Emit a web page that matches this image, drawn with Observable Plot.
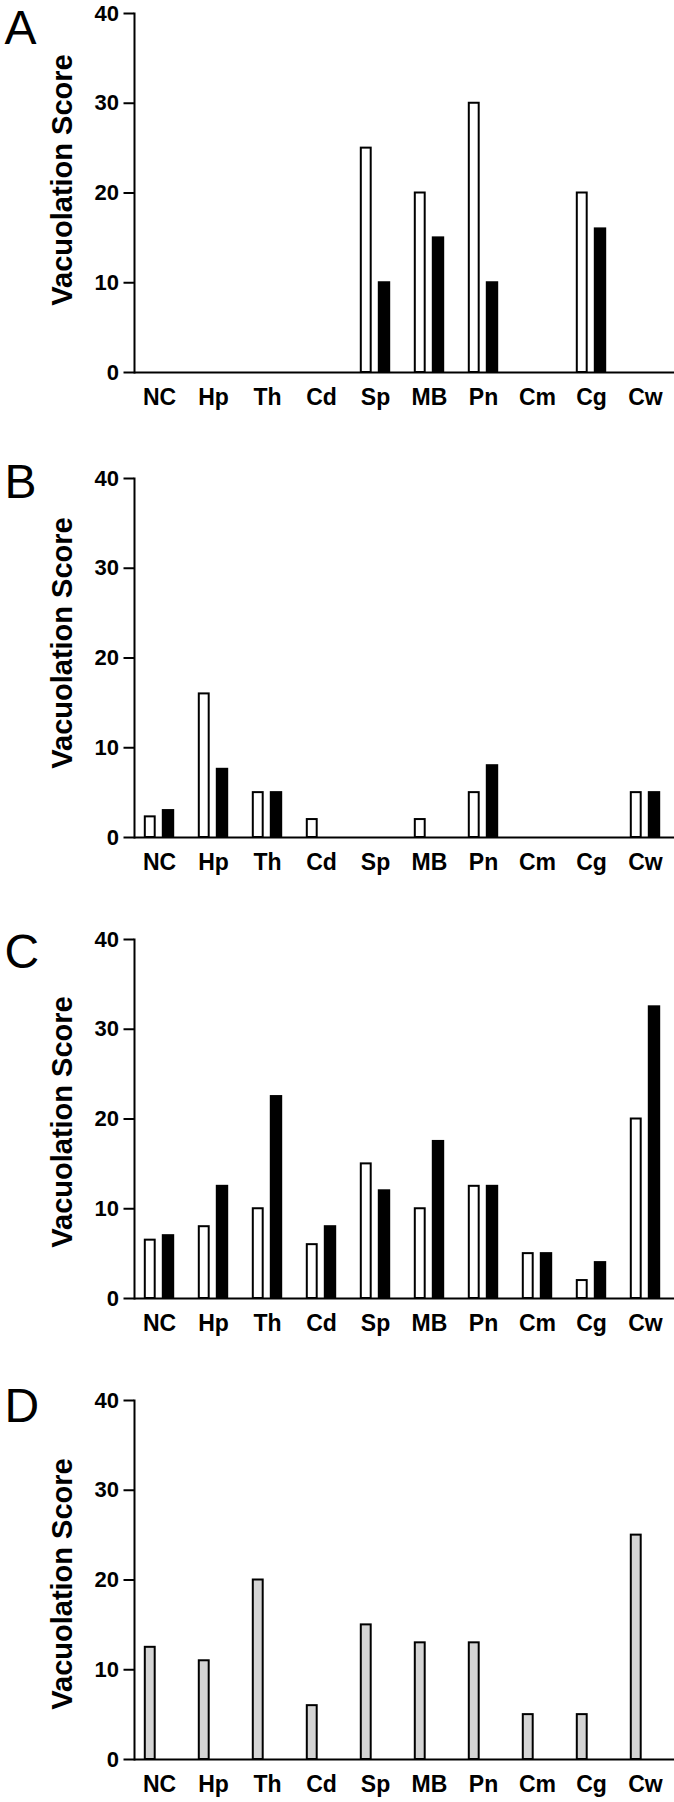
<!DOCTYPE html>
<html><head><meta charset="utf-8">
<script src="https://cdn.jsdelivr.net/npm/d3@7"></script>
<script src="https://cdn.jsdelivr.net/npm/@observablehq/plot@0.6"></script>
<style>
html,body{margin:0;padding:0;background:#fff;}
#wrap{position:relative;width:674px;height:1802px;overflow:hidden;background:#fff;}
.panel{position:absolute;left:0;}
</style></head><body><div id="wrap"></div>
<script>
// ---- data ----
const categories = ["NC","Hp","Th","Cd","Sp","MB","Pn","Cm","Cg","Cw"];
const yTicks = [0,10,20,30,40];
const yLabel = "Vacuolation Score";
const panelLetters = ["A","B","C","D"];
const aOpen   = [0,0,0,0,25,20,30,0,20,0];
const aFilled = [0,0,0,0,10,15,10,0,16,0];
const bOpen   = [2.3,16,5,2,0,2,5,0,0,5];
const bFilled = [3,7.6,5,0,0,0,8,0,0,5];
const cOpen   = [6.5,8,10,6,15,10,12.5,5,2,20];
const cFilled = [7,12.5,22.5,8,12,17.5,12.5,5,4,32.5];
const dGray   = [12.5,11,20,6,15,13,13,5,5,25];

// ---- layout ----
const W = 674, ML = 134, MT = 20, MB = 41, PH = 359;
const panels = [
  {letter: panelLetters[0], top: -7.5, titleDy: -13, letterDy: -3.5,
   series: [{values: aOpen, fill: "#fff", side: "left"}, {values: aFilled, fill: "#000", side: "right"}]},
  {letter: panelLetters[1], top: 457.7, titleDy: -15, letterDy: -14.7,
   series: [{values: bOpen, fill: "#fff", side: "left"}, {values: bFilled, fill: "#000", side: "right"}]},
  {letter: panelLetters[2], top: 919, titleDy: 3, letterDy: -6,
   series: [{values: cOpen, fill: "#fff", side: "left"}, {values: cFilled, fill: "#000", side: "right"}]},
  {letter: panelLetters[3], top: 1379.7, titleDy: 4, letterDy: -13,
   series: [{values: dGray, fill: "#d4d4d4", side: "left"}]}
];

const wrap = document.getElementById("wrap");
for (const p of panels) {
  const marks = [];
  for (const s of p.series) {
    const data = categories.map((c, i) => ({cat: c, v: s.values[i]})).filter(d => d.v > 0);
    marks.push(Plot.barY(data, {
      x: "cat", y: "v", fill: s.fill, stroke: "#000", strokeWidth: 2,
      insetLeft: s.side === "left" ? 12.8 : 30.8,
      insetRight: s.side === "left" ? 31.3 : 12.8
    }));
  }
  marks.push(Plot.ruleY([0], {strokeWidth: 2}));
  marks.push(Plot.frame({anchor: "left", strokeWidth: 2}));
  marks.push(Plot.axisY({ticks: yTicks, tickSize: 10.5, tickPadding: 5, fontSize: 22, fontWeight: "bold", label: null, strokeWidth: 2}));
  marks.push(Plot.axisX({tickSize: 0, tickPadding: 16, fontSize: 23, fontWeight: "bold", label: null}));
  marks.push(Plot.text([yLabel], {frameAnchor: "left", textAnchor: "middle", rotate: -90, dx: -72, dy: p.titleDy, fontSize: 29, fontWeight: "bold", text: d => d}));
  marks.push(Plot.text([p.letter], {frameAnchor: "top-left", textAnchor: "start", lineAnchor: "top", dx: -130, dy: p.letterDy, fontSize: 48, text: d => d}));
  const chart = Plot.plot({
    width: W, height: MT + PH + MB,
    marginLeft: ML, marginRight: 0, marginTop: MT, marginBottom: MB,
    style: {fontFamily: "'Liberation Sans', Arial, sans-serif", background: "transparent", overflow: "visible"},
    x: {type: "band", domain: categories, range: [128.17, 674.87], padding: 0},
    y: {domain: [0, 40]},
    marks
  });
  const div = document.createElement("div");
  div.className = "panel";
  div.style.top = p.top + "px";
  div.appendChild(chart);
  wrap.appendChild(div);
}
</script></body></html>
